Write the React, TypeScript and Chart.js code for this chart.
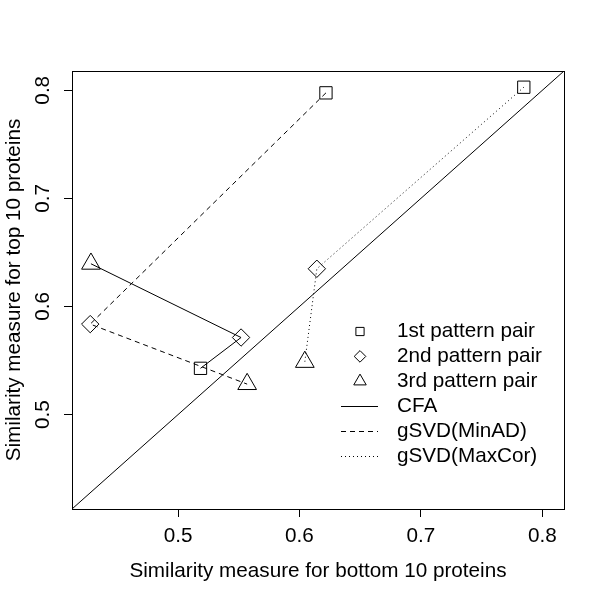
import React, { useEffect, useRef } from 'react';
import { Chart, registerables } from 'chart.js';

Chart.register(...registerables);

// Legend / series labels
const methodNames = ['CFA', 'gSVD(MinAD)', 'gSVD(MaxCor)'];
const patternNames = ['1st pattern pair', '2nd pattern pair', '3rd pattern pair'];

// Values per method, in pattern-pair order (1st, 2nd, 3rd)
// x = similarity for bottom 10 proteins, y = similarity for top 10 proteins
const cfaX = [0.5185, 0.5519, 0.4283];
const cfaY = [0.5428, 0.5713, 0.6395];
const minadX = [0.6218, 0.4277, 0.5569];
const minadY = [0.7976, 0.5837, 0.5282];
const maxcorX = [0.7847, 0.6143, 0.6044];
const maxcorY = [0.8028, 0.6349, 0.5487];

const tickValues = [0.5, 0.6, 0.7, 0.8];
const tickLabels = ['0.5', '0.6', '0.7', '0.8'];

const xTitle = 'Similarity measure for bottom 10 proteins';
const yTitle = 'Similarity measure for top 10 proteins';

const FONT_FAMILY = '"Liberation Sans", Arial, Helvetica, sans-serif';
const FONT_SIZE = 20.7;

export default function App() {
  const ref = useRef<HTMLCanvasElement | null>(null);

  useEffect(() => {
    const canvas = ref.current;
    if (!canvas) return;

    const all = [...cfaX, ...cfaY, ...minadX, ...minadY, ...maxcorX, ...maxcorY];
    const mn = Math.min(...all);
    const mx = Math.max(...all);
    const ext = (mx - mn) * 0.04;
    const lo = mn - ext;
    const hi = mx + ext;

    const pts = (xs: number[], ys: number[]) => xs.map((x, i) => ({ x, y: ys[i] }));
    const styles = ['rect', 'rectRot', 'triangle'];
    const radii = [8.7, 8.7, 10.8];

    const seriesDs = (label: string, xs: number[], ys: number[], dash: number[]) => ({
      label,
      data: pts(xs, ys),
      showLine: true,
      borderColor: '#000',
      borderWidth: 1,
      borderDash: dash,
      tension: 0,
      pointStyle: styles,
      pointRadius: radii,
      pointHoverRadius: radii,
      pointBorderColor: '#000',
      pointBackgroundColor: 'rgba(0,0,0,0)',
      pointBorderWidth: 1,
    });

    const font = { family: FONT_FAMILY, size: FONT_SIZE };

    const framePlugin = {
      id: 'frame',
      afterDraw(chart: any) {
        const { ctx, chartArea } = chart;
        const a = (v: number) => Math.floor(v) + 0.5;
        ctx.save();
        ctx.strokeStyle = '#000';
        ctx.lineWidth = 1;
        ctx.setLineDash([]);
        ctx.strokeRect(a(chartArea.left), a(chartArea.top), Math.round(chartArea.right - chartArea.left), Math.round(chartArea.bottom - chartArea.top));
        ctx.restore();
      },
    };

    const legendPlugin = {
      id: 'rlegend',
      afterDraw(chart: any) {
        const { ctx } = chart;
        const y0 = 331.5;
        const dy = 24.9;
        const sx = 360;
        const tx = 397;
        ctx.save();
        ctx.strokeStyle = '#000';
        ctx.fillStyle = '#000';
        ctx.lineWidth = 1;
        ctx.font = `${FONT_SIZE}px ${FONT_FAMILY}`;
        ctx.textBaseline = 'middle';
        ctx.textAlign = 'left';
        const labels = [...patternNames, ...methodNames];
        labels.forEach((lab, i) => {
          const y = y0 + dy * i;
          ctx.setLineDash([]);
          ctx.beginPath();
          if (i === 0) {
            const h = 4.1;
            ctx.rect(sx - h, y - h, 2 * h, 2 * h);
          } else if (i === 1) {
            const r = 5.8;
            ctx.moveTo(sx, y - r);
            ctx.lineTo(sx + r, y);
            ctx.lineTo(sx, y + r);
            ctx.lineTo(sx - r, y);
            ctx.closePath();
          } else if (i === 2) {
            const r = 7.2;
            ctx.moveTo(sx, y - r);
            ctx.lineTo(sx + r * 0.866, y + r / 2);
            ctx.lineTo(sx - r * 0.866, y + r / 2);
            ctx.closePath();
          } else {
            if (i === 4) ctx.setLineDash([5, 4]);
            if (i === 5) ctx.setLineDash([1, 3]);
            ctx.moveTo(341, Math.floor(y) + 0.5);
            ctx.lineTo(378, Math.floor(y) + 0.5);
          }
          ctx.stroke();
          ctx.setLineDash([]);
          ctx.fillText(lab, tx, y);
        });
        ctx.restore();
      },
    };

    const chart = new Chart(canvas, {
      type: 'scatter',
      data: {
        datasets: [
          {
            label: 'identity',
            data: [
              { x: lo, y: lo },
              { x: hi, y: hi },
            ],
            showLine: true,
            borderColor: '#000',
            borderWidth: 1,
            pointRadius: 0,
            pointHoverRadius: 0,
          } as any,
          seriesDs(methodNames[0], cfaX, cfaY, []),
          seriesDs(methodNames[1], minadX, minadY, [5, 4]),
          seriesDs(methodNames[2], maxcorX, maxcorY, [1, 3]),
        ],
      },
      options: {
        animation: false,
        responsive: false,
        events: [],
        layout: { padding: { top: 71, right: 36, left: 0, bottom: 0 } },
        plugins: {
          legend: { display: false },
          tooltip: { enabled: false },
        },
        scales: {
          x: {
            type: 'linear',
            min: lo,
            max: hi,
            afterBuildTicks: (s: any) => {
              s.ticks = tickValues.map((v) => ({ value: v }));
            },
            afterFit: (s: any) => {
              s.height = 91;
            },
            ticks: {
              color: '#000',
              font,
              padding: 7,
              maxRotation: 0,
              minRotation: 0,
              callback: (_v: any, i: number) => tickLabels[i],
            },
            grid: {
              display: true,
              drawOnChartArea: false,
              drawTicks: true,
              tickLength: 8,
              color: '#000',
              lineWidth: 1,
            },
            border: { display: true, color: '#000', width: 1 },
            title: {
              display: true,
              text: xTitle,
              color: '#000',
              font,
              padding: { top: 0, bottom: 16 },
            },
          },
          y: {
            type: 'linear',
            min: lo,
            max: hi,
            afterBuildTicks: (s: any) => {
              s.ticks = tickValues.map((v) => ({ value: v }));
            },
            afterFit: (s: any) => {
              s.width = 72;
            },
            ticks: {
              color: '#000',
              font,
              padding: 6,
              minRotation: 90,
              maxRotation: 90,
              crossAlign: 'center',
              callback: (_v: any, i: number) => tickLabels[i],
            },
            grid: {
              display: true,
              drawOnChartArea: false,
              drawTicks: true,
              tickLength: 8,
              color: '#000',
              lineWidth: 1,
            },
            border: { display: true, color: '#000', width: 1 },
            title: {
              display: true,
              text: yTitle,
              color: '#000',
              font,
              padding: { top: 2, bottom: 0 },
            },
          },
        },
      } as any,
      plugins: [framePlugin, legendPlugin],
    });

    return () => {
      chart.destroy();
    };
  }, []);

  return (
    <div style={{ position: 'absolute', left: 0, top: 0, width: 600, height: 600, background: '#fff' }}>
      <canvas ref={ref} width={600} height={600} />
    </div>
  );
}
